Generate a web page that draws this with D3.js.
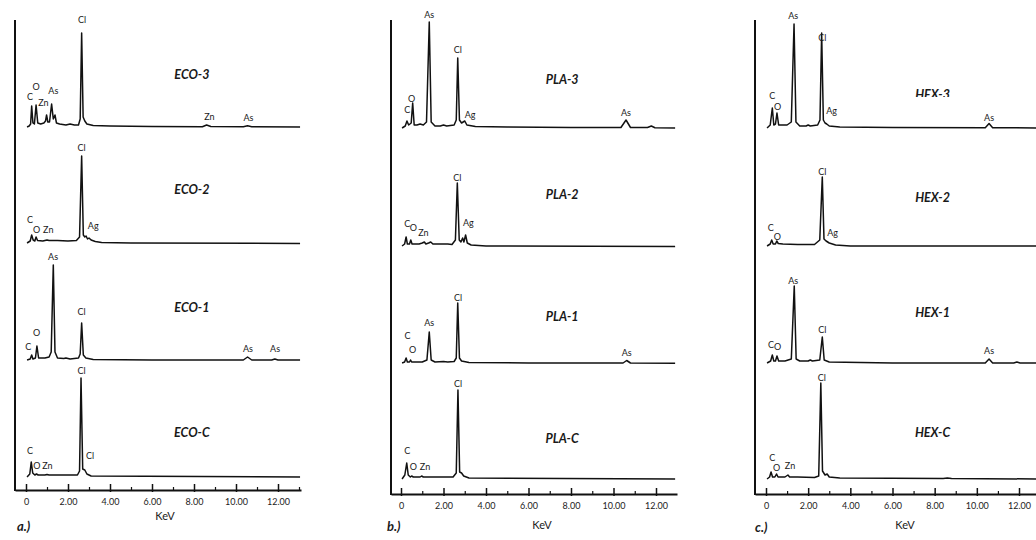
<!DOCTYPE html>
<html><head><meta charset="utf-8">
<script src="https://cdn.jsdelivr.net/npm/d3@7"></script>
<style>
html,body{margin:0;padding:0;background:#fff;}
svg{display:block;font-family:Lato,"Open Sans",sans-serif;}
</style></head>
<body><svg id="chart" width="1036" height="540"></svg>
<script>
// ---------- DATA (keV, intensity in arbitrary counts) ----------
const panelLetters = ["a.)", "b.)", "c.)"];
const sampleNames = [
  ["ECO-3", "ECO-2", "ECO-1", "ECO-C"],
  ["PLA-3", "PLA-2", "PLA-1", "PLA-C"],
  ["HEX-3", "HEX-2", "HEX-1", "HEX-C"]
];
const majorTicks = [0, 2, 4, 6, 8, 10, 12];
const majorTickLabels = ["0", "2.00", "4.00", "6.00", "8.00", "10.00", "12.00"];
const minorTicks = [1, 3, 5, 7, 9, 11, 13];
const axisTitle = "KeV";

const eco3 = [[0.05,0],[0.15,1],[0.22,3],[0.27,21],[0.33,4],[0.40,3],[0.48,22],[0.56,4],[0.7,3],[0.85,4],[0.93,6],[0.98,12],[1.04,5],[1.12,5],[1.22,23],[1.3,8],[1.38,12],[1.45,4],[1.6,3],[1.9,2],[2.1,3],[2.3,2],[2.5,2],[2.58,8],[2.65,94],[2.72,10],[2.8,6],[2.9,3],[3.2,1.5],[4,1],[6,0.5],[8.4,0.3],[8.6,2],[8.8,0.5],[10.35,0.3],[10.55,1.2],[10.75,0.3],[13.05,0]];
const eco2 = [[0.05,0],[0.2,2],[0.27,8],[0.34,3],[0.42,2],[0.48,6],[0.55,2.5],[0.8,2],[1.0,3],[1.1,2.5],[1.5,2.5],[2.0,2],[2.4,2.5],[2.55,6],[2.65,87],[2.73,8],[2.8,6],[2.86,7],[2.93,4],[3.0,5],[3.1,3],[3.3,1.5],[3.6,0.5],[5,0],[13.05,-0.5]];
const eco1 = [[0.05,0],[0.2,1],[0.27,5],[0.33,1],[0.45,2],[0.52,14],[0.6,2],[0.9,2],[1.1,3],[1.2,8],[1.3,95],[1.38,8],[1.5,2],[1.8,1.5],[1.9,2],[2.1,1],[2.5,2],[2.58,6],[2.65,37],[2.73,5],[2.85,2],[3.2,0.5],[6,0],[10.35,0],[10.55,3],[10.75,0],[11.7,0],[11.85,1],[12,0],[13.05,0]];
const ecoC = [[0.05,0],[0.18,3],[0.25,15],[0.32,4],[0.42,2],[0.5,3],[0.58,2],[0.9,2],[1.0,2.5],[1.1,2],[2.45,2],[2.55,6],[2.62,99],[2.7,8],[2.8,7],[2.9,3],[3.1,1],[13.05,0]];

const pla3 = [[0.05,0],[0.2,2],[0.28,7],[0.36,3],[0.48,5],[0.55,25],[0.62,3],[0.75,3],[0.9,4],[1.05,3],[1.2,6],[1.33,106],[1.42,6],[1.6,2],[1.85,2],[2.0,3],[2.15,2],[2.5,3],[2.6,8],[2.67,70],[2.75,8],[2.85,5],[3.0,7],[3.1,3],[3.5,1.5],[5,1],[8,0.5],[10.35,0.5],[10.59,8],[10.8,0.5],[11.6,0.5],[11.78,2],[11.95,0.3],[12.9,0]];
const pla2 = [[0.05,0],[0.17,2],[0.24,9],[0.3,2],[0.4,2],[0.46,6],[0.52,2],[0.7,2],[0.85,2],[1.0,3],[1.1,4],[1.17,2],[1.3,3],[1.4,4],[1.5,2],[1.8,2],[2.2,2],[2.4,1.5],[2.56,6],[2.65,63],[2.74,6],[2.82,4],[2.9,8],[2.96,4],[3.04,11],[3.12,3],[3.3,1],[4,0],[12.9,-0.5]];
const pla1 = [[0.05,0],[0.17,1],[0.24,5],[0.3,1],[0.4,1],[0.45,3],[0.5,1],[1.0,1],[1.22,3],[1.33,31],[1.42,3],[1.6,1],[2.0,1.5],[2.2,1],[2.5,1.5],[2.6,5],[2.67,60],[2.75,5],[2.85,2],[3.2,0.5],[6,0],[10.45,0],[10.62,2.5],[10.8,0],[12.9,-0.3]];
const plaC = [[0.05,0],[0.18,4],[0.27,16],[0.34,4],[0.44,2],[0.5,3],[0.58,2],[0.9,2],[0.97,3],[1.05,2],[2.45,2],[2.6,6],[2.68,89],[2.76,7],[2.85,6],[2.95,3],[3.2,1],[12.9,0]];

const hex3 = [[0.05,0],[0.2,3],[0.3,20],[0.37,3],[0.45,4],[0.52,15],[0.6,3],[0.8,3],[1.0,3],[1.2,6],[1.33,104],[1.42,6],[1.6,2],[1.9,2],[2.0,3],[2.1,2],[2.45,3],[2.56,8],[2.64,95],[2.72,8],[2.8,5],[2.88,4],[3.0,2],[3.5,1],[6,0.5],[10.4,0.3],[10.58,4.5],[10.75,0.3],[12.9,0]];
const hex2 = [[0.05,0],[0.2,2],[0.27,6],[0.34,2],[0.45,2],[0.51,5],[0.58,2.5],[0.8,2],[1.5,1.5],[2.3,1.5],[2.55,6],[2.67,69],[2.75,7],[2.85,5],[3.0,3],[3.3,1],[4,0],[12.9,0]];
const hex1 = [[0.05,0],[0.22,2],[0.3,8],[0.37,2],[0.45,2],[0.52,7],[0.6,2],[0.9,2],[1.2,4],[1.34,77],[1.43,4],[1.6,2],[2.0,2],[2.1,3],[2.2,2],[2.55,3],[2.67,26],[2.76,3],[3.0,1],[6,0],[10.4,0],[10.58,4],[10.75,0],[11.75,0],[11.9,1],[12.05,0],[12.9,0]];
const hexC = [[0.05,0],[0.17,2],[0.24,7],[0.31,2],[0.42,2],[0.5,5],[0.57,2],[0.9,2],[1.04,4],[1.12,2],[1.5,2],[2.3,1.5],[2.5,3],[2.6,96],[2.68,8],[2.8,4],[2.9,5],[3.0,2],[3.5,1],[8.4,0.5],[8.6,1],[8.8,0.5],[12.9,0]];

// peak labels: [text, keV, intensity]
const eco3Labels = [["Cl",2.67,107],["C",0.19,30],["O",0.48,40],["Zn",0.83,24],["As",1.3,36],["Zn",8.73,10],["As",10.59,9]];
const eco2Labels = [["Cl",2.65,95],["C",0.19,23],["O",0.51,13],["Zn",1.06,13],["Ag",3.2,17]];
const eco1Labels = [["As",1.29,103],["C",0.11,13],["O",0.51,27],["Cl",2.65,48],["As",10.57,11],["As",11.86,11]];
const ecoCLabels = [["Cl",2.65,106],["C",0.19,26],["O",0.52,11],["Zn",1.02,11],["Cl",3.05,21]];

const pla3Labels = [["As",1.33,113],["Cl",2.67,78],["O",0.5,29],["C",0.3,18],["Ag",3.25,13],["As",10.59,15]];
const pla2Labels = [["Cl",2.65,68],["C",0.3,22],["O",0.58,18],["Zn",1.05,13],["Ag",3.17,23]];
const pla1Labels = [["Cl",2.68,65],["As",1.33,40],["C",0.31,27],["O",0.55,13],["As",10.62,10]];
const plaCLabels = [["Cl",2.68,95],["C",0.3,28],["O",0.58,12],["Zn",1.13,12]];

const hex3Labels = [["As",1.29,112],["Cl",2.67,90],["C",0.3,32],["O",0.55,21],["Ag",3.11,17],["As",10.58,10]];
const hex2Labels = [["Cl",2.67,74],["C",0.22,18],["O",0.54,9],["Ag",3.16,13]];
const hex1Labels = [["As",1.29,82],["Cl",2.67,33],["C",0.24,18],["O",0.55,16],["As",10.58,12]];
const hexCLabels = [["Cl",2.65,101],["C",0.3,21],["O",0.5,11],["Zn",1.14,13]];

// sample title position: [keV, intensity]
const ecoTitlePos = [[7.9,52],[7.9,53],[7.9,52],[7.9,44]];
const plaTitlePos = [[7.58,48],[7.58,51],[7.58,46],[7.58,40]];
const hexTitlePos = [[7.9,33],[7.9,48],[7.9,50],[7.9,46]];

const panelSpectra = [[eco3, eco2, eco1, ecoC],[pla3, pla2, pla1, plaC],[hex3, hex2, hex1, hexC]];
const panelLabels = [[eco3Labels, eco2Labels, eco1Labels, ecoCLabels],[pla3Labels, pla2Labels, pla1Labels, plaCLabels],[hex3Labels, hex2Labels, hex1Labels, hexCLabels]];
const panelTitlePos = [ecoTitlePos, plaTitlePos, hexTitlePos];

// ---------- LAYOUT ----------
const layout = [
  {left:15,  x0:26,  x12:278, right:301,  axisY:490, top:20, base:[127,243,360,477], kevX:165, kevY:520, letterX:17,  letterY:531},
  {left:391, x0:401, x12:656, right:677,  axisY:494, top:20, base:[128,246,363,479], kevX:542, kevY:529, letterX:387, letterY:531},
  {left:755, x0:766, x12:1019, right:1036, axisY:494, top:20, base:[128,246,363,479], kevX:905, kevY:529, letterX:755, letterY:532}
];

const svg = d3.select("#chart");

layout.forEach((L, p) => {
  const g = svg.append("g");
  const x = d3.scaleLinear().domain([0, 12]).range([L.x0, L.x12]);
  const xa = x.copy().domain([x.invert(L.left), x.invert(L.right)]).range([L.left, L.right]);

  panelSpectra[p].forEach((spec, r) => {
    const y = d3.scaleLinear().domain([0, 100]).range([L.base[r], L.base[r] - 100]);
    const line = d3.line().x(d => x(d[0])).y(d => y(d[1]));

    const tp = panelTitlePos[p][r];
    g.append("text").attr("x", x(tp[0])).attr("y", y(tp[1])).attr("dy", "0.35em")
      .attr("text-anchor", "middle").attr("font-size", 12.5)
      .attr("font-weight", "bold").attr("font-style", "italic").attr("fill", "#1a1a1a")
      .text(sampleNames[p][r]);

    // artifact box clipping HEX-3 label in original
    if (p === 2 && r === 0) {
      g.append("rect").attr("x", 900).attr("y", 97).attr("width", 136).attr("height", 9).attr("fill", "#fff");
    }

    g.append("path").datum(spec).attr("d", line)
      .attr("fill", "none").attr("stroke", "#111").attr("stroke-width", 1.5)
      .attr("stroke-linejoin", "round");

    g.selectAll(null).data(panelLabels[p][r]).enter().append("text")
      .attr("x", d => x(d[1])).attr("y", d => y(d[2]))
      .attr("dy", "0.35em").attr("text-anchor", "middle")
      .attr("font-size", 9).attr("fill", "#1a1a1a").text(d => d[0]);
  });

  // x axis (major)
  const ax = g.append("g").attr("transform", `translate(0,${L.axisY})`)
    .call(d3.axisBottom(xa).tickValues(majorTicks).tickFormat((d, i) => majorTickLabels[i])
      .tickSizeInner(-6).tickSizeOuter(0).tickPadding(9));
  ax.select(".domain").attr("stroke", "#111").attr("stroke-width", 2);
  ax.selectAll(".tick line").attr("stroke", "#111").attr("stroke-width", 1.5);
  ax.selectAll(".tick text").attr("font-size", 9).attr("fill", "#222")
    .attr("font-family", "Lato, 'Open Sans', sans-serif");
  // minor ticks
  const mx = g.append("g").attr("transform", `translate(0,${L.axisY})`)
    .call(d3.axisBottom(xa).tickValues(minorTicks.filter(v => xa(v) <= L.right)).tickFormat("")
      .tickSizeInner(-3).tickSizeOuter(0));
  mx.select(".domain").remove();
  mx.selectAll(".tick line").attr("stroke", "#111").attr("stroke-width", 1.2);
  // small downward stubs on major ticks
  const dx = g.append("g").attr("transform", `translate(0,${L.axisY})`)
    .call(d3.axisBottom(xa).tickValues(majorTicks).tickFormat("").tickSizeInner(2).tickSizeOuter(0));
  dx.select(".domain").remove();
  dx.selectAll(".tick line").attr("stroke", "#111").attr("stroke-width", 1.5);

  // y axis line
  g.append("line").attr("x1", L.left).attr("x2", L.left).attr("y1", L.top).attr("y2", L.axisY + 1)
    .attr("stroke", "#111").attr("stroke-width", 2);

  // axis title
  g.append("text").attr("x", L.kevX).attr("y", L.kevY).attr("text-anchor", "middle")
    .attr("font-size", 11).attr("fill", "#222").text(axisTitle);

  // panel letter
  g.append("text").attr("x", L.letterX).attr("y", L.letterY)
    .attr("font-size", 13).attr("font-weight", "bold").attr("font-style", "italic")
    .attr("fill", "#1a1a1a").text(panelLetters[p]);
});
</script>
</body></html>
